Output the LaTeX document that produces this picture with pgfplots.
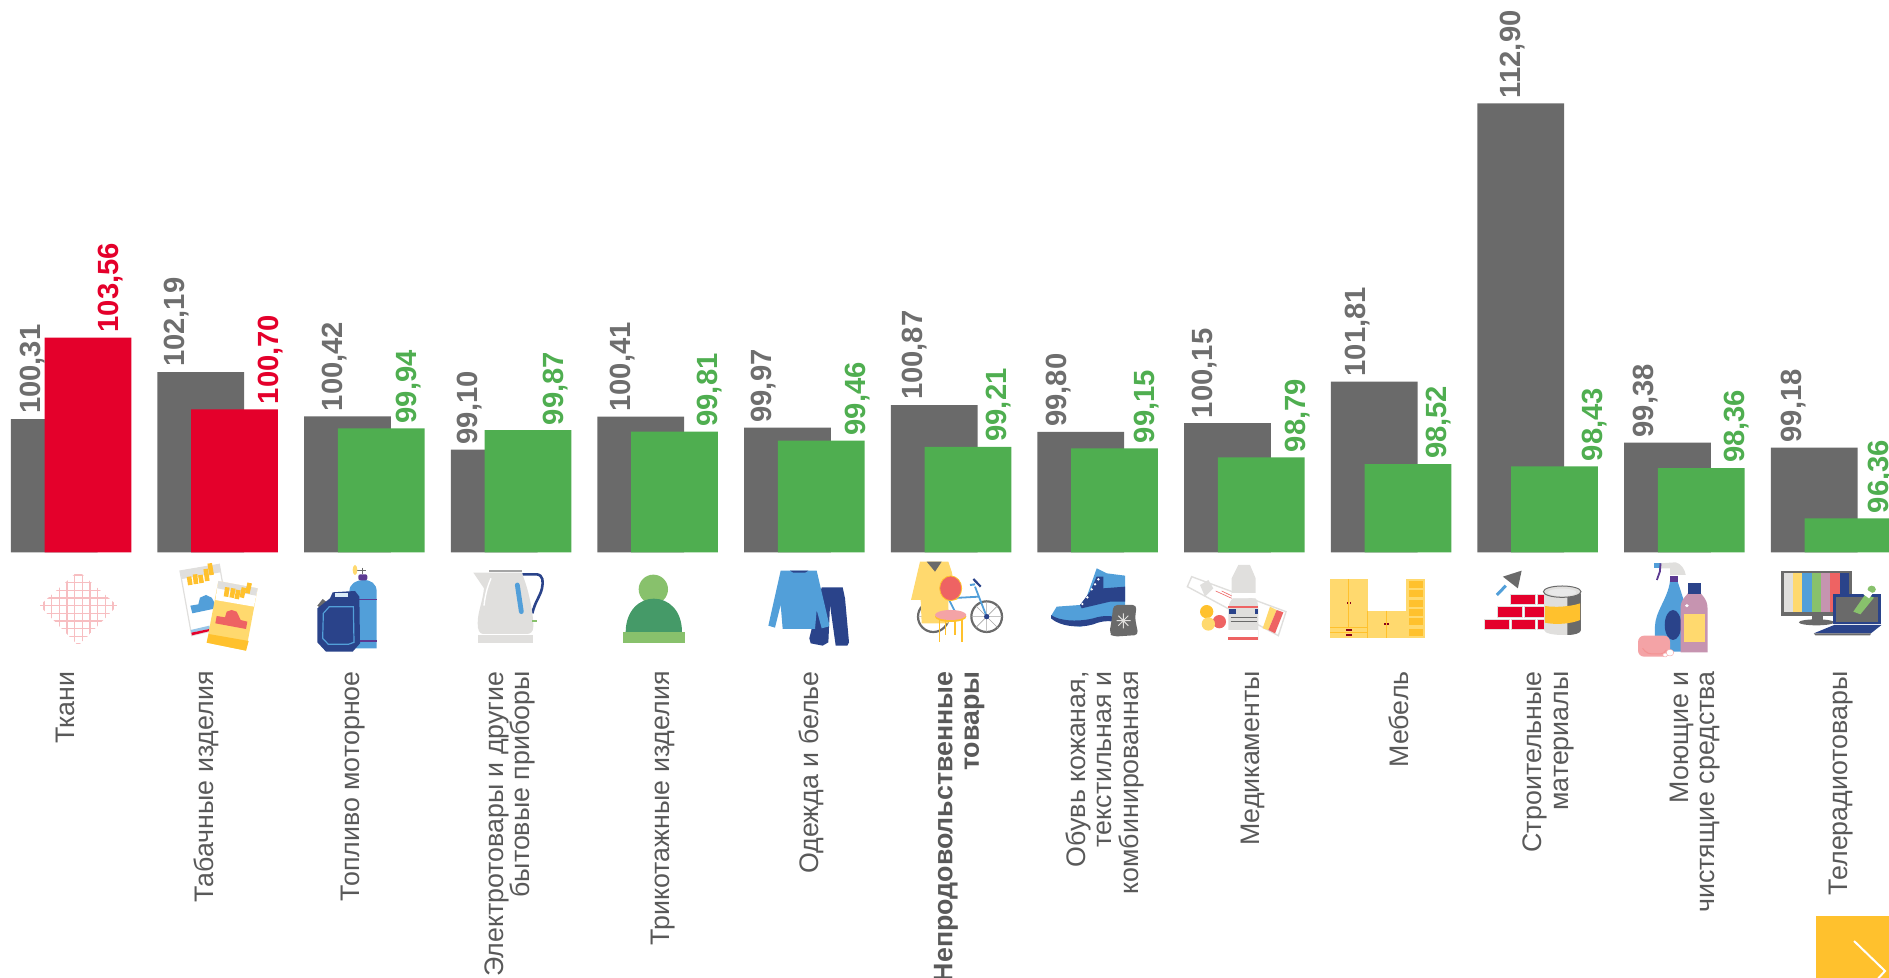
\documentclass[border=0pt]{standalone}
\usepackage{fontspec}
\setmainfont{Liberation Sans}
\usepackage{pgfplots}
\pgfplotsset{compat=1.18}
\definecolor{cBar}{HTML}{6A6A6A}
\definecolor{cLab}{HTML}{6E6E6E}
\definecolor{cTxt}{HTML}{595959}
\definecolor{cRed}{HTML}{E4002B}
\definecolor{cGreen}{HTML}{4FAE50}
\definecolor{cBlue}{HTML}{529FD9}
\definecolor{cNavy}{HTML}{2A438A}
\definecolor{cYel}{HTML}{FFD96E}
\definecolor{cGold}{HTML}{FFC12D}
\definecolor{cCoral}{HTML}{EE6363}
\definecolor{cLG}{HTML}{E0DFDD}
\definecolor{cLeaf}{HTML}{88C16C}
\definecolor{cDG}{HTML}{459A68}
\definecolor{cPink}{HTML}{F4A3A6}
\definecolor{cMauve}{HTML}{C694B0}
\definecolor{cPurp}{HTML}{5C3A92}
\begin{document}
\begin{tikzpicture}
\useasboundingbox (0,0) rectangle (944.5pt,489pt);
\clip (0,0) rectangle (944.5pt,489pt);
\begin{axis}[
  at={(0pt,212.8pt)}, anchor=south west, scale only axis,
  width=944.5pt, height=276.2pt,
  xmin=0, xmax=1889, ymin=95, ymax=117.02, clip=false,
  axis line style={draw=none}, tick style={draw=none}, ytick=\empty,
  xtick={63.8,204.8,351.8,508.4,661.4,809.6,957.8,1103.5,1251.7,1397.4,1546.9,1693.8,1839.6},
  xticklabels={
    Ткани,
    Табачные изделия,
    Топливо моторное,
    {Электротовары и другие\\бытовые приборы},
    Трикотажные изделия,
    Одежда и белье,
    {\bfseries Непродовольственные\\\bfseries товары},
    {Обувь кожаная,\\текстильная и\\комбинированная},
    Медикаменты,
    Мебель,
    {Строительные\\материалы},
    {Моющие и\\чистящие средства},
    Телерадиотовары},
  xticklabel style={xshift=0.7pt, yshift=-59.3pt, rotate=90, anchor=east, inner sep=0pt, align=right,
    text=cTxt, font=\fontsize{13.4pt}{13.3pt}\selectfont},
  /pgf/number format/.cd, fixed, fixed zerofill, precision=2, use comma, assume math mode=true,
]
% grey bars (previous period)
\addplot[ybar, bar width=43.35pt, bar shift=0pt, fill=cBar, draw=none] coordinates {
 (54.2,100.31)(200.8,102.19)(347.5,100.42)(494.2,99.10)(640.8,100.41)(787.5,99.97)(934.2,100.87)
 (1080.8,99.80)(1227.5,100.15)(1374.2,101.81)(1520.8,112.90)(1667.5,99.38)(1814.2,99.18)};
% grey value labels
\addplot[draw=none, nodes near coords, every node near coord/.style={xshift=1.1pt, yshift=2.4pt, rotate=90, anchor=west, inner sep=0pt, text=cLab,
   font=\fontsize{14.6pt}{15pt}\selectfont\bfseries}] coordinates {
 (30.1,100.31)(174.7,102.19)(332.5,100.42)(467.4,99.10)(620.4,100.41)(761.4,99.97)(912,100.87)
 (1056.5,99.80)(1202.3,100.15)(1355.3,101.81)(1510.7,112.90)(1643.2,99.38)(1791.4,99.18)};
% red bars
\addplot[ybar, bar width=43.35pt, bar shift=0pt, fill=cRed, draw=none] coordinates {
 (87.9,103.56)(234.5,100.70)};
% green bars
\addplot[ybar, bar width=43.35pt, bar shift=0pt, fill=cGreen, draw=none] coordinates {
 (381.2,99.94)(527.9,99.87)(674.5,99.81)(821.2,99.46)(967.9,99.21)(1114.5,99.15)(1261.2,98.79)
 (1407.9,98.52)(1554.5,98.43)(1701.2,98.36)(1847.9,96.36)};
% red value labels
\addplot[draw=none, nodes near coords, every node near coord/.style={xshift=1.1pt, yshift=2.4pt, rotate=90, anchor=west, inner sep=0pt, text=cRed,
   font=\fontsize{14.6pt}{15pt}\selectfont\bfseries}] coordinates {
 (108.4,103.56)(268.6,100.70)};
% green value labels
\addplot[draw=none, nodes near coords, every node near coord/.style={xshift=1.1pt, yshift=2.4pt, rotate=90, anchor=west, inner sep=0pt, text=cGreen,
   font=\fontsize{14.6pt}{15pt}\selectfont\bfseries}] coordinates {
 (406,99.94)(553,99.87)(707.2,99.81)(855.3,99.46)(996.3,99.21)(1144.5,99.15)(1295,98.79)
 (1436,98.52)(1592.6,98.43)(1734.8,98.36)(1878.1,96.36)};
\end{axis}

% --- icons: fabric, cigarettes, fuel
\begin{scope}[shift={(10pt,211.5pt)},x=0.16667pt,y=-0.16667pt]
 \begin{scope}
 \clip (175,48)--(292,152)--(175,272)--(58,152)--cycle;
 \foreach \v in {72,95,118,141,164,187,210,233,256,279} \draw[cPink!70,line width=.7pt] (\v,40)--(\v,280);
 \foreach \v in {60,83,106,129,152,175,198,221,244,265} \draw[cPink!70,line width=.7pt] (60,\v)--(290,\v);
 \end{scope}
 \fill[white,draw=cLG,line width=.6pt] (480,48)--(598,28)--(630,215)--(515,242)--cycle;
 \fill[cLG] (480,48)--(598,28)--(602,52)--(486,72)--cycle;
 \foreach \a/\b/\c/\d in {511/90/507/65,528/87/525/58,545/84/541/60,562/78/557/42,575/60/569/25}
   \draw[cGold,line width=2.3pt] (\a,\b)--(\c,\d);
 \fill[cBlue] (511,152)--(535,148)--(540,128)--(558,120)--(575,128)--(583,142)--(588,160)--(517,175)--cycle;
 \fill[cBlue!60] (512,225)--(568,212)--(570,222)--(514,233)--cycle;
 \fill[cRed] (514,233)--(568,222)--(570,228)--(516,241)--cycle;
 \fill[cYel] (595,78)--(713,100)--(678,287)--(560,263)--cycle;
 \fill[white] (595,78)--(713,100)--(702,155)--(586,135)--cycle;
 \fill[cLG] (595,78)--(713,100)--(708,122)--(592,100)--cycle;
 \foreach \a/\b/\c/\d in {618/125/622/97,635/128/640/100,650/132/655/105,665/128/672/98,682/115/689/84}
   \draw[cGold,line width=2.3pt] (\a,\b)--(\c,\d);
 \fill[cGold] (566,237)--(686,258)--(678,287)--(560,263)--cycle;
 \fill[cCoral] (590,183)--(615,187)--(620,170)--(635,165)--(650,170)--(662,195)--(682,200)--(678,222)--(586,205)--cycle;
 % gas bottle
 \fill[cBlue] (988,280)--(988,110) .. controls (988,85) and (1010,75) .. (1030,75) .. controls (1052,75) and (1070,85) .. (1070,110)--(1070,280)--cycle;
 \draw[cPurp,line width=.6pt] (1015,133)--(1070,133) (1015,258)--(1070,258);
 \fill[cPurp,rounded corners=1pt] (1015,76)--(1015,58)--(1042,58)--(1042,76)--cycle;
 \draw[cBar,line width=.6pt] (1027,38)--(1027,58) (1010,46)--(1037,46);
 \fill[cYel] (1005,45) ellipse (7 and 15);
 \fill[cBar] (892,152)--(908,132)--(918,140)--(900,158)--cycle;
 \fill[cNavy] (892,160)--(930,130)--(938,112)--(1005,108)--(1018,125)--(1020,265)--(998,290)--(918,290)--(892,262)--cycle;
 \fill[white!80!cBlue] (945,115)--(985,115)--(985,125)--(945,125)--cycle;
 \draw[cBlue,line width=.6pt] (910,175)--(928,155)--(1000,155)--(1002,262)--(985,268)--(925,268)--(908,250)--cycle;
\end{scope}

% --- kettle, hat, clothes
\begin{scope}[shift={(220pt,211.5pt)},x=0.16667pt,y=-0.16667pt]
 \draw[cNavy,line width=1.3pt] (247,58)--(290,58) .. controls (310,60) and (310,80) .. (306,100) .. controls (300,125) and (285,140) .. (277,175);
 \fill[cLG] (100,53)--(245,53) .. controls (265,100) and (280,170) .. (280,215) .. controls (280,232) and (270,237) .. (260,237)--(130,237) .. controls (118,237) and (113,225) .. (113,205) .. controls (113,170) and (128,140) .. (132,100)--cycle;
 \draw[cBar!60,line width=.7pt] (148,48)--(245,48);
 \fill[cLG] (113,240) rectangle (280,263);
 \draw[cBlue,line width=2.4pt,line cap=round] (232,90)--(244,170);
 \draw[white,line width=.7pt] (153,70) .. controls (140,100) and (135,125) .. (132,152);
 \draw[cLeaf,line width=.8pt] (277,198)--(290,198);
 \fill[cLeaf] (640,103) circle (44);
 \fill[cDG] (557,232) .. controls (557,165) and (600,131) .. (641,131) .. controls (685,131) and (726,165) .. (726,232)--cycle;
 \fill[cLeaf] (548,230) rectangle (734,265);
 \fill[cNavy] (1145,97)--(1208,97)--(1215,130)--(1227,262)--(1222,272)--(1187,272)--(1170,150)--(1165,262)--(1148,272)--(1112,265)--(1108,250)--(1125,180)--cycle;
 \fill[cBlue] (1022,47)--(1130,47)--(1168,210)--(1165,215)--(1145,220)--(1130,165)--(1125,222)--(1028,222)--(1022,150)--(1005,218)--(985,212)--cycle;
 \fill[cNavy] (1050,47)--(1105,47)--(1095,53)--(1060,53)--cycle;
\end{scope}

% --- coat, bike, chair; boot; medicine
\begin{scope}[shift={(440pt,211.5pt)},x=0.16667pt,y=-0.16667pt]
 \draw[cBar,line width=1.1pt] (320,185) circle (46) (160,185) circle (46);
 \draw[cBar!60,line width=.3pt] (320,139)--(320,231) (274,185)--(366,185) (287,152)--(353,218) (287,218)--(353,152) (115,185)--(205,185);
 \fill[cYel] (120,20)--(205,20)--(215,50)--(232,135)--(205,135)--(205,205)--(125,205)--(122,135)--(93,135)--cycle;
 \fill[cBar] (140,20)--(185,20)--(165,50)--cycle;
 \draw[cBlue,line width=.9pt] (320,185)--(285,95) (298,125)--(205,130) (205,130)--(235,190);
 \draw[cBlue,line width=1pt] (270,90)--(285,88);
 \draw[cNavy,line width=1.1pt] (280,72)--(302,95);
 \fill[cNavy] (320,185) circle (8);
 \draw[cGold,line width=.6pt] (178,190)--(178,262) (246,190)--(246,262) (197,195)--(197,240) (225,195)--(225,240);
 \fill[cCoral,draw=cGold,line width=.4pt] (212,100) ellipse (33 and 37);
 \fill[cGold] (212,185) ellipse (47 and 16);
 \fill[cPink] (212,180) ellipse (47 and 15);
 % boot
 \fill[cBlue] (513,183)--(530,155)--(600,150)--(620,125)--(650,40)--(680,55)--(735,62)--(735,205)--(700,190)--(640,205)--(600,215)--(550,208)--(513,190)--cycle;
 \fill[cNavy] (513,180) .. controls (540,200) and (600,200) .. (640,190) .. controls (670,180) and (700,180) .. (735,195)--(735,210) .. controls (700,195) and (670,195) .. (640,208) .. controls (600,220) and (540,215) .. (513,190)--cycle;
 \fill[cNavy] (650,65)--(670,65)--(670,100)--(735,95)--(735,140)--(690,140)--(605,160)--(600,150)--(630,110)--cycle;
 \foreach \a/\b in {655/73,645/88,635/103,622/127,607/147} \fill[white] (\a,\b) circle (4);
 \fill[cBar,rounded corners=2pt] (700,150)--(770,150)--(765,190)--(775,240)--(700,245)--(688,235)--(695,195)--cycle;
 \draw[cLG,line width=.5pt] (730,175)--(730,220) (710,197)--(752,197) (715,182)--(745,212) (715,212)--(745,182);
 % medicine
 \fill[white,draw=cLG,line width=.7pt] (922,95)--(935,65)--(1218,170)--(1195,242)--cycle;
 \fill[cLG] (960,90)--(985,75)--(1000,100)--(975,125)--cycle;
 \fill[cYel] (1170,155)--(1190,165)--(1165,225)--(1148,220)--cycle;
 \fill[cCoral] (1190,165)--(1210,172)--(1185,235)--(1165,225)--cycle;
 \draw[cCoral,line width=.3pt] (1007,108)--(1055,130) (1025,108)--(1060,125);
 \fill[cGold] (980,170) circle (20);
 \fill[cCoral] (1018,200) circle (20);
 \fill[cYel] (985,207) circle (20);
 \fill[cLG] (1075,30)--(1110,30)--(1127,70)--(1127,130)--(1055,130)--(1055,70)--cycle;
 \fill[cLG] (1045,165) .. controls (1045,145) and (1055,130) .. (1060,130)--(1125,130) .. controls (1130,130) and (1135,145) .. (1135,165)--(1135,255)--(1045,255)--cycle;
 \fill[white] (1055,115) rectangle (1127,130);
 \fill[cCoral] (1045,152) rectangle (1135,160);
 \fill[cCoral] (1045,245) rectangle (1135,255);
 \fill[white] (1045,225) rectangle (1135,245);
 \fill[cNavy] (1047,162) rectangle (1068,178);
 \fill[cNavy] (1125,162) rectangle (1135,178);
 \draw[cBar,line width=.4pt] (1052,188)--(1130,188) (1052,198)--(1130,198);
\end{scope}

% --- furniture, bricks, spray, TV
\begin{scope}[shift={(650pt,211.5pt)},x=0.1878pt,y=-0.16667pt]
 \fill[cYel] (80,72) rectangle (180,248);
 \fill[cYel] (180,167) rectangle (282,248);
 \fill[cYel] (282,72) rectangle (332,248);
 \foreach \v in {78,106,134,162,190,221} \fill[cGold] (289,\v) rectangle (327,\v+21);
 \draw[cGold,line width=.5pt] (130,72)--(130,215) (230,167)--(230,248) (80,217)--(180,217) (80,232)--(180,232) (180,167)--(180,248);
 \fill[cRed!60!black] (124,142) rectangle (129,148);
 \fill[cRed!60!black] (132,142) rectangle (137,148);
 \fill[cRed!60!black] (224,204) rectangle (229,210);
 \fill[cRed!60!black] (232,204) rectangle (237,210);
 \fill[cRed!60!black] (122,223) rectangle (138,227);
 \fill[cRed!60!black] (122,238) rectangle (138,242);
 % bricks
 \foreach \a/\b/\c/\d in {560/118/628/150,632/118/650/150,525/155/593/187,597/155/650/187,490/193/557/225,562/193/628/225,632/193/650/225}
   \fill[cRed,draw=cLG,line width=.5pt] (\a,\b) rectangle (\c,\d);
 \fill[cBar] (590,47)--(540,65)--(580,100)--cycle;
 \draw[cBlue,line width=1.5pt] (524,120)--(548,92);
 % can
 \fill[cLG] (650,110)--(748,110)--(748,225) .. controls (748,245) and (650,245) .. (650,225)--cycle;
 \fill[cBar] (712,115)--(748,115)--(748,225) .. controls (748,235) and (730,240) .. (712,240)--cycle;
 \fill[cGold] (652,153) .. controls (680,158) and (720,155) .. (746,145)--(746,195) .. controls (720,207) and (680,210) .. (652,203)--cycle;
 \fill[cLG,draw=cBar,line width=.5pt] (698,110) ellipse (50 and 17);
 \fill[white!85!cBar] (698,112) ellipse (38 and 11);
 % spray
 \fill[cBlue] (985,78)--(1005,78)--(1020,130)--(1032,180)--(1032,290)--(945,290)--(945,215) .. controls (945,170) and (980,130) .. (985,78)--cycle;
 \fill[cNavy] (993,210) ellipse (22 and 45);
 \fill[cPurp] (985,62) rectangle (1005,80);
 \fill[cLG] (960,25)--(1000,22) .. controls (1015,25) and (1025,45) .. (1027,60)--(985,60)--(985,40)--(960,40)--cycle;
 \fill[cBlue] (942,25) rectangle (960,40);
 \draw[cPurp,line width=.9pt] (960,25)--(958,50)--(950,75);
 \fill[cMauve] (1013,160) .. controls (1013,130) and (1033,120) .. (1035,110)--(1065,110) .. controls (1067,120) and (1085,130) .. (1085,160)--(1085,292)--(1013,292)--cycle;
 \fill[cNavy] (1033,83) rectangle (1067,118);
 \fill[cYel] (1022,178) rectangle (1077,260);
 \fill[white] (1030,152) circle (5);
 \fill[cPink,rounded corners=3pt] (900,242) rectangle (985,305);
 \draw[cCoral!70,line width=.5pt,rounded corners=2pt] (912,280)--(925,297)--(970,297)--(975,285);
 \fill[white,draw=cPink,line width=.2pt] (985,293) circle (10) (972,300) circle (6);
 % TV
 \fill[cBar] (1280,47) rectangle (1470,182);
 \foreach \a/\b/\c in {1288/1312/cLG,1312/1337/cYel,1337/1362/cBlue,1362/1387/cLeaf,1387/1412/cMauve,1412/1437/cCoral,1437/1462/cNavy}
   \fill[\c] (\a,55) rectangle (\b,172);
 \fill[cBar] (1362,182) rectangle (1392,195);
 \fill[cBar] (1375,202) ellipse (47 and 9);
 \fill[cNavy] (1420,117) rectangle (1548,207);
 \fill[cBar] (1428,125) rectangle (1540,200);
 \fill[cNavy] (1422,210)--(1548,210)--(1520,235)--(1368,235)--cycle;
 \fill[cBar] (1368,235)--(1520,235)--(1518,241)--(1372,241)--cycle;
 \fill[cLeaf] (1473,170)--(1505,118)--(1528,128)--(1492,178)--cycle;
 \fill[cLeaf] (1522,103) circle (11);
 \fill[white] (1500,118)--(1510,105)--(1525,115)--(1515,130)--cycle;
\end{scope}

% --- scroll button
\begin{scope}[shift={(0pt,489pt)},x=0.5pt,y=-0.5pt]
 \fill[cGold] (1816,916) rectangle (1889,978);
 \draw[white,line width=1pt] (1854,941)--(1885,971)--(1875,982);
\end{scope}
\end{tikzpicture}
\end{document}
